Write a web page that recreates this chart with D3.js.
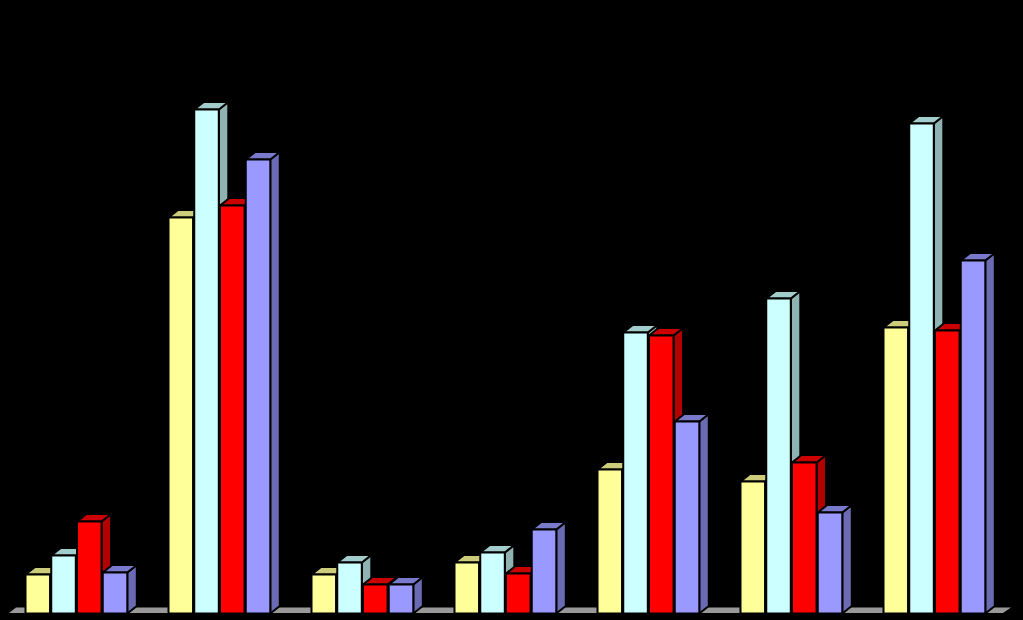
<!DOCTYPE html>
<html><head><meta charset="utf-8">
<script src="https://cdn.jsdelivr.net/npm/d3@7"></script>
<style>html,body{margin:0;padding:0;background:#000;overflow:hidden}svg{display:block}</style>
</head><body><svg id="c" width="1023" height="620"></svg>
<script>
const categories = ["1","2","3","4","5","6","7"];
const seriesNames = ["A","B","C","D"];
const seriesA = [39,396,39,51,144,132,286];
const seriesB = [58,504,51,61,281,315,490];
const seriesC = [92,408,29,40,278,151,283];
const seriesD = [41,454,29,84,192,101,353];
const seriesValues = [seriesA,seriesB,seriesC,seriesD];
const frontColors = ["#FFFF99","#CCFFFF","#FF0000","#9999FF"];
const topColors = ["#CCCC7A","#A3CCCC","#CC0000","#7A7ACC"];
const sideColors = ["#B3B36B","#8FB3B3","#B30000","#6B6BB3"];
const floorColor = "#999999";

const W=1023,H=620,dx=9.5,dy=7.5;
const svg=d3.select("#c");
const y=d3.scaleLinear().domain([0,600]).range([613.5,13.5]);
const x0=d3.scaleBand().domain(categories).range([-1,1000]).paddingInner(0).paddingOuter(0);
const x1=d3.scaleBand().domain(seriesNames).range([25.5,128.5]).paddingInner(0);
const bw=x1.bandwidth()-1.2;
const path=p=>d3.line()(p)+"Z";

svg.append("rect").attr("width",W).attr("height",H).attr("fill","#000");
svg.append("path").attr("fill",floorColor)
 .attr("d",path([[9,613],[16,607.5],[1011,607.5],[1003,613]]));

categories.forEach((c,i)=>{
  const off=x0(c)-x0(categories[0]);
  seriesNames.forEach((s,j)=>{
    const v=seriesValues[j][i];
    const l=off+x1(s), r=l+bw, t=y(v), b=y(0);
    const g=svg.append("g").attr("stroke","#000").attr("stroke-width",2).attr("stroke-linejoin","round");
    g.append("path").attr("fill",sideColors[j]).attr("d",path([[r,t],[r+dx,t-dy],[r+dx,b-dy],[r,b]]));
    g.append("path").attr("fill",topColors[j]).attr("d",path([[l,t],[l+dx,t-dy],[r+dx,t-dy],[r,t]]));
    g.append("rect").attr("fill",frontColors[j]).attr("x",l).attr("y",t).attr("width",bw).attr("height",b-t);
  });
});
</script></body></html>
